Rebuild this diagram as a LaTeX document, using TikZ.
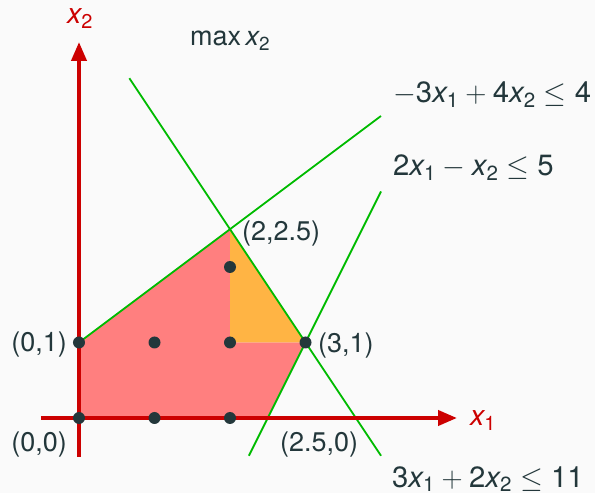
\documentclass[tikz,border=0pt]{standalone}
\usepackage{fix-cm}
\usepackage{amsmath}
\usepackage{fontspec}
\setmainfont{TeX Gyre Heros}
\usetikzlibrary{arrows.meta}
\definecolor{bg}{HTML}{FAFAFA}
\definecolor{txt}{HTML}{23373B}
\definecolor{axred}{HTML}{CC0000}
\definecolor{lgreen}{HTML}{00BB00}
\definecolor{fred}{HTML}{FF7F7F}
\definecolor{forange}{HTML}{FFB444}
\newcommand{\xv}[1]{\mathit{x}_{\text{#1}}}
\newcommand{\nm}[1]{\text{#1}}
\begin{document}
\begin{tikzpicture}[x=75.5pt,y=75.5pt,
  font=\fontsize{27}{32}\selectfont,
  mfont/.style={font=\fontsize{28.5}{34}\selectfont},
  kfont/.style={font=\fontsize{29.3}{35}\selectfont},
  lbl/.style={inner sep=0pt,text=txt},
  axlbl/.style={inner sep=0pt,text=axred},
  dot/.style={circle,fill=txt,inner sep=0pt,minimum size=12pt},
  cline/.style={lgreen,line width=1.8pt},
  axis/.style={axred,line width=4pt,-{Triangle[length=19pt,width=15pt]}}]
\fill[bg] (-79pt,-75pt) rectangle (516pt,418pt);
\useasboundingbox (-79pt,-75pt) rectangle (516pt,418pt);
% regions
\fill[fred] (0,0) -- (0,1) -- (2,2.5) -- (2,1) -- (3,1) -- (2.5,0) -- cycle;
\fill[forange] (2,2.5) -- (3,1) -- (2,1) -- cycle;
% constraint lines
\coordinate (a1) at (0,1);   \coordinate (a2) at (4,4);
\coordinate (b1) at (2.25,-0.5); \coordinate (b2) at (4,3);
\coordinate (c1) at (0.667,4.5); \coordinate (c2) at (4,-0.5);
\draw[cline] (a1) -- (a2);
\draw[cline] (b1) -- (b2);
\draw[cline] (c1) -- (c2);
% axes
\coordinate (xs) at (-38pt,0); \coordinate (xe) at (378pt,0);
\coordinate (ys) at (0,-39pt); \coordinate (ye) at (0,376pt);
\draw[axis] (xs) -- (xe);
\draw[axis] (ys) -- (ye);
\node[axlbl,mfont,anchor=base west] (lx1) at (391pt,-8pt) {$\xv{1}$};
\node[axlbl,mfont,anchor=base west] (lx2) at (-12pt,394pt) {$\xv{2}$};
% dots
\node[dot] (p00) at (0,0) {};
\node[dot] (p10) at (1,0) {};
\node[dot] (p20) at (2,0) {};
\node[dot] (p01) at (0,1) {};
\node[dot] (p11) at (1,1) {};
\node[dot] (p21) at (2,1) {};
\node[dot] (p22) at (2,2) {};
\node[dot] (p31) at (3,1) {};
% labels
\node[lbl,anchor=base west] (obj) at (111pt,372pt) {$\max \xv{2}$};
\node[lbl,kfont,anchor=base west] (k1) at (314pt,315pt) {$-\nm{3}\xv{1}+\nm{4}\xv{2}\leq \nm{4}$};
\node[lbl,kfont,anchor=base west] (k2) at (314pt,242pt) {$\nm{2}\xv{1}-\xv{2}\leq \nm{5}$};
\node[lbl,kfont,anchor=base west] (k3) at (313pt,-69pt) {$\nm{3}\xv{1}+\nm{2}\xv{2}\leq \nm{11}$};
\node[lbl,anchor=base east] (t01) at (-12pt,66pt) {(0,1)};
\node[lbl,anchor=base east] (t00) at (-12pt,-34pt) {(0,0)};
\node[lbl,anchor=base west] (t250) at (201pt,-34pt) {(2.5,0)};
\node[lbl,anchor=base west] (t31) at (239pt,65pt) {(3,1)};
\node[lbl,anchor=base west] (t225) at (163pt,177pt) {(2,2.5)};
\end{tikzpicture}
\end{document}
